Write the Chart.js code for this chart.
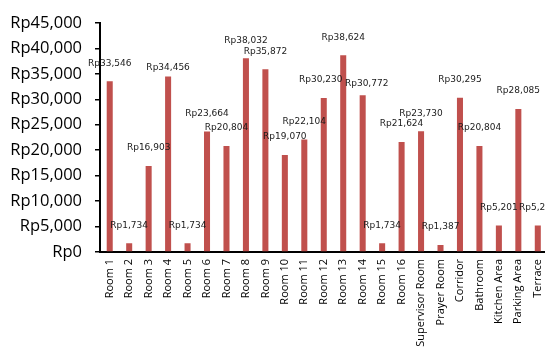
<!DOCTYPE html>
<html>
<head>
<meta charset="utf-8">
<script src="https://cdn.jsdelivr.net/npm/chart.js@4"></script>
<style>
  html, body { margin: 0; padding: 0; background: #fff; overflow: hidden; }
  #wrap { width: 558px; height: 350px; }
</style>
</head>
<body>
<div id="wrap"><canvas id="c" width="558" height="350"></canvas></div>
<script>
// Cost per area (Rupiah)
const areas = ['Room 1', 'Room 2', 'Room 3', 'Room 4', 'Room 5', 'Room 6', 'Room 7', 'Room 8',
  'Room 9', 'Room 10', 'Room 11', 'Room 12', 'Room 13', 'Room 14', 'Room 15', 'Room 16',
  'Supervisor Room', 'Prayer Room', 'Corridor', 'Bathroom', 'Kitchen Area', 'Parking Area', 'Terrace'];

const costs = [33546, 1734, 16903, 34456, 1734, 23664, 20804, 38032,
  35872, 19070, 22104, 30230, 38624, 30772, 1734, 21624,
  23730, 1387, 30295, 20804, 5201, 28085, 5201];

const yMin = 0;
const yMax = 45000;
const yStep = 5000;

const rupiah = v => 'Rp' + Number(v).toLocaleString('en-US');

// Value labels above each bar, a few nudged so they don't collide
const labelNudge = { 3: [0, 9], 11: [-3, 0], 13: [4, 6] };
const valueLabels = {
  id: 'valueLabels',
  afterDatasetsDraw(chart) {
    const ctx = chart.ctx;
    const meta = chart.getDatasetMeta(0);
    const data = chart.data.datasets[0].data;
    ctx.save();
    ctx.font = '9px "DejaVu Sans"';
    ctx.fillStyle = '#1a1a1a';
    ctx.textAlign = 'center';
    ctx.textBaseline = 'middle';
    meta.data.forEach((bar, i) => {
      const n = labelNudge[i] || [0, 0];
      ctx.fillText(rupiah(data[i]), bar.x + n[0], bar.y - 18 + n[1]);
    });
    ctx.restore();
  }
};

new Chart(document.getElementById('c'), {
  type: 'bar',
  data: {
    labels: areas,
    datasets: [{
      data: costs,
      backgroundColor: '#C0504D',
      borderWidth: 0,
      barPercentage: 0.31,
      categoryPercentage: 1.0
    }]
  },
  options: {
    responsive: false,
    animation: false,
    devicePixelRatio: 1,
    layout: { padding: { top: 22, right: 0, bottom: 0, left: 0 } },
    plugins: {
      legend: { display: false },
      tooltip: { enabled: false }
    },
    scales: {
      x: {
        afterFit(scale) { scale.height = 98; },
        grid: { display: true, drawOnChartArea: false, drawTicks: false },
        border: { display: true, color: '#000', width: 2 },
        ticks: {
          color: '#000',
          font: { family: '"Open Sans"', size: 11 },
          minRotation: 90,
          maxRotation: 90,
          padding: 7,
          autoSkip: false
        }
      },
      y: {
        min: yMin,
        max: yMax,
        afterFit(scale) { scale.width = 100; },
        grid: { display: true, drawOnChartArea: false, drawTicks: true, tickLength: 5, color: '#000', lineWidth: 1.5 },
        border: { display: true, color: '#000', width: 2 },
        ticks: {
          stepSize: yStep,
          color: '#000',
          font: { family: '"Open Sans"', size: 16.5 },
          padding: 13,
          callback: v => rupiah(v)
        }
      }
    }
  },
  plugins: [valueLabels]
});
</script>
</body>
</html>
